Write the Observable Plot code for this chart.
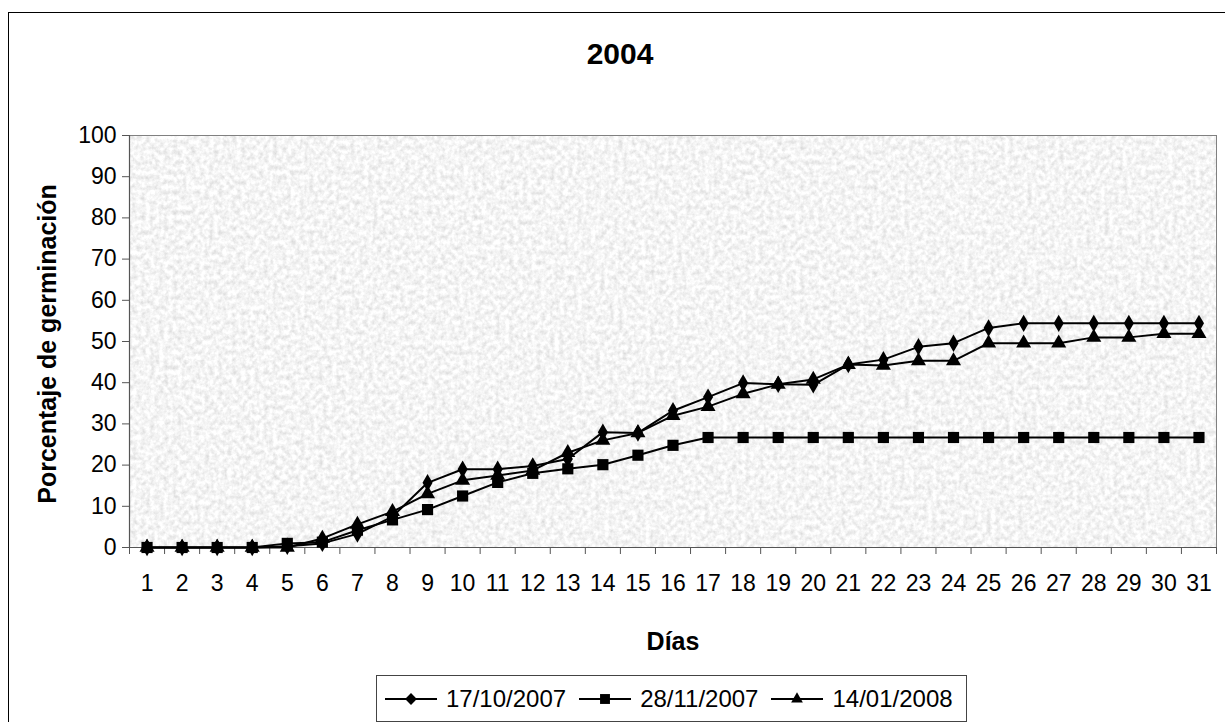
<!DOCTYPE html>
<html>
<head>
<meta charset="utf-8">
<script src="https://cdn.jsdelivr.net/npm/d3@7"></script>
<script src="https://cdn.jsdelivr.net/npm/@observablehq/plot@0.6"></script>
<style>
html, body { margin: 0; padding: 0; background: #fff; }
#chart { position: relative; width: 1225px; height: 722px; overflow: hidden; font-family: "Liberation Sans", Arial, sans-serif; color: #000; }
#border { position: absolute; left: 8px; top: 12px; width: 1260px; height: 760px; border: 1px solid #000; box-sizing: border-box; pointer-events: none; }
#plot { position: absolute; left: 0; top: 0; }
.title { position: absolute; left: 620px; top: 54px; transform: translate(-50%, -50%); font-weight: bold; font-size: 30px; line-height: 1; white-space: nowrap; }
.ylabel { position: absolute; left: 47px; top: 344px; transform: translate(-50%, -50%) rotate(-90deg); font-weight: bold; font-size: 25px; line-height: 1; white-space: nowrap; }
.xlabel { position: absolute; left: 673px; top: 641px; transform: translate(-50%, -50%); font-weight: bold; font-size: 25px; line-height: 1; white-space: nowrap; }
#legend { position: absolute; left: 376px; top: 675px; width: 591px; height: 47px; border: 1px solid #444; box-sizing: border-box; display: flex; align-items: center; padding-left: 8px; font-size: 24px; }
#legend .item { display: flex; align-items: center; margin-right: 13px; white-space: nowrap; }
#legend svg { margin-right: 9px; }
</style>
</head>
<body>
<div id="chart">
  <div id="plot"></div>
  <div class="title">2004</div>
  <div class="ylabel">Porcentaje de germinación</div>
  <div class="xlabel">Días</div>
  <div id="legend"></div>
  <div id="border"></div>
</div>
<script>
// ---- data ----
const days = d3.range(1, 32);
const yTicks = [0, 10, 20, 30, 40, 50, 60, 70, 80, 90, 100];
const seriesNames = ["17/10/2007", "28/11/2007", "14/01/2008"];
const s17102007 = [0, 0, 0, 0, 0.3, 1, 3.3, 7.5, 15.7, 19, 19, 19.8, 21.5, 28, 27.8, 33.2, 36.5, 39.9, 39.6, 39.5, 44.4, 45.6, 48.7, 49.6, 53.3, 54.4, 54.4, 54.4, 54.4, 54.4, 54.4];
const s28112007 = [0, 0, 0, 0, 1, 1.3, 4.2, 6.7, 9.2, 12.5, 15.8, 18, 19.1, 20.1, 22.4, 24.8, 26.7, 26.7, 26.7, 26.7, 26.7, 26.7, 26.7, 26.7, 26.7, 26.7, 26.7, 26.7, 26.7, 26.7, 26.7];
const s14012008 = [0, 0, 0, 0, 0, 2.2, 5.6, 8.7, 13, 16.3, 17.5, 18.7, 23, 26, 27.8, 32, 34.2, 37.3, 39.6, 40.8, 44.4, 44.2, 45.3, 45.3, 49.6, 49.6, 49.6, 51, 51, 51.9, 51.9];
const seriesValues = [s17102007, s28112007, s14012008];
const seriesSymbols = ["diamond", "square", "triangle"];
const seriesR = [5.3, 6.3, 5.6];

// ---- build ----
const series = seriesNames.map((name, k) => ({
  name, symbol: seriesSymbols[k], r: seriesR[k],
  rows: days.map((d, i) => ({ day: d, value: seriesValues[k][i], serie: name }))
}));
const bounds = [...days.map(d => d - 0.5), days[days.length - 1] + 0.5];

const marks = [
  Plot.frame({ fill: "#e6e6e6" }),
  Plot.frame({ stroke: "#808080", strokeWidth: 1 }),
  Plot.axisY(yTicks, { tickSize: 7, tickPadding: 6, fontSize: 23, label: null, stroke: "#555" }),
  Plot.axisX(days, { tickSize: 0, tickPadding: 27, fontSize: 23, label: null }),
  Plot.axisX(bounds, { tickSize: 7, tickFormat: () => "", label: null, stroke: "#555" }),
  Plot.ruleY([0], { stroke: "#555", strokeWidth: 1.2 }),
  Plot.ruleX([bounds[0]], { stroke: "#555", strokeWidth: 1.2 })
];
for (const s of series) {
  marks.push(Plot.line(s.rows, { x: "day", y: "value", stroke: "#000", strokeWidth: 2 }));
  marks.push(Plot.dot(s.rows, { x: "day", y: "value", symbol: () => s.symbol, r: s.r, fill: "#000", stroke: "none" }));
}

const plot = Plot.plot({
  width: 1225,
  height: 722,
  marginLeft: 129,
  marginRight: 9,
  marginTop: 135,
  marginBottom: 175,
  style: { fontFamily: "Liberation Sans, Arial, sans-serif", color: "#000", background: "transparent" },
  x: { type: "linear", domain: [bounds[0], bounds[bounds.length - 1]], axis: null },
  y: { domain: [0, 100], axis: null },
  symbol: { type: "ordinal" },
  marks
});
document.getElementById("plot").appendChild(plot);

// paper-like texture for the plotting area
const svg = d3.select(plot);
const defs = svg.insert("defs", ":first-child");
const f = defs.append("filter").attr("id", "paper").attr("x", 0).attr("y", 0).attr("width", 1).attr("height", 1);
f.append("feTurbulence").attr("type", "fractalNoise").attr("baseFrequency", "0.22 0.2").attr("numOctaves", 3).attr("seed", 11).attr("result", "n");
f.append("feColorMatrix").attr("in", "n").attr("type", "matrix")
  .attr("values", "0.5 0 0 0 0.66  0.5 0 0 0 0.66  0.5 0 0 0 0.66  0 0 0 0 1");
const frames = svg.selectAll('[aria-label="frame"]');
d3.select(frames.nodes()[0]).attr("filter", "url(#paper)");

// legend
const legend = d3.select("#legend");
series.forEach(s => {
  const item = legend.append("div").attr("class", "item");
  const sw = item.append("svg").attr("width", 52).attr("height", 20);
  sw.append("line").attr("x1", 0).attr("x2", 52).attr("y1", 10).attr("y2", 10).attr("stroke", "#000").attr("stroke-width", 2);
  const type = s.symbol === "diamond" ? d3.symbolDiamond2 : s.symbol === "square" ? d3.symbolSquare2 : d3.symbolTriangle2;
  sw.append("path").attr("transform", "translate(26,10)").attr("d", d3.symbol(type, Math.PI * s.r * s.r)()).attr("fill", "#000");
  item.append("span").text(s.name);
});
</script>
</body>
</html>
